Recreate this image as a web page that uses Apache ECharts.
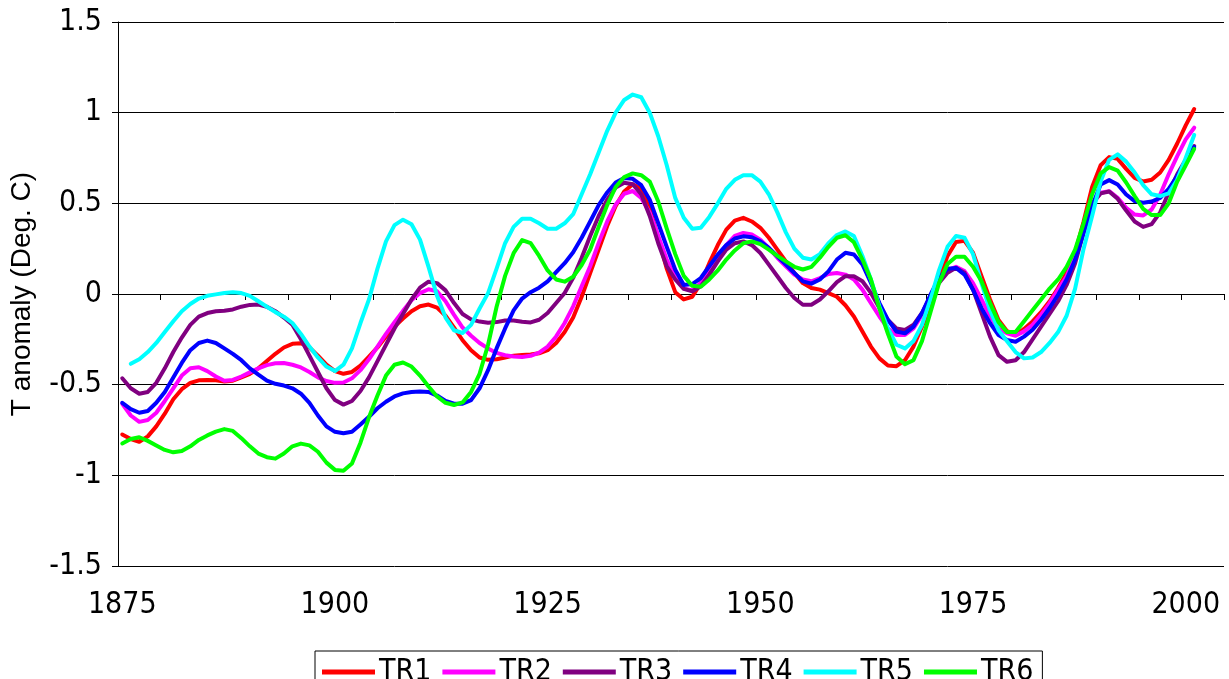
<!DOCTYPE html>
<html>
<head>
<meta charset="utf-8">
<script src="https://cdn.jsdelivr.net/npm/echarts@6/dist/echarts.min.js"></script>
<style>
html,body{margin:0;padding:0;background:#fff;}
#chart{width:1229px;height:679px;}
</style>
</head>
<body>
<div id="chart"></div>
<script>
// Category axis: years 1875..2004 (data through 2001)
const years = [];
for (let y = 1875; y <= 2004; y++) years.push(String(y));

const yTitle = 'T anomaly (Deg. C)';
const seriesNames = ['TR1', 'TR2', 'TR3', 'TR4', 'TR5', 'TR6'];

const TR1 = [-0.775,-0.80,-0.815,-0.785,-0.73,-0.66,-0.58,-0.525,-0.49,-0.476,
-0.474,-0.476,-0.482,-0.478,-0.46,-0.44,-0.41,-0.37,-0.33,-0.295,
-0.275,-0.272,-0.295,-0.34,-0.39,-0.425,-0.44,-0.43,-0.395,-0.345,
-0.295,-0.235,-0.18,-0.135,-0.095,-0.068,-0.058,-0.075,-0.12,-0.185,
-0.255,-0.31,-0.35,-0.363,-0.36,-0.35,-0.34,-0.337,-0.334,-0.327,
-0.31,-0.27,-0.21,-0.13,-0.015,0.115,0.245,0.375,0.485,0.565,
0.605,0.58,0.47,0.31,0.14,0.01,-0.03,-0.015,0.06,0.17,
0.27,0.355,0.405,0.42,0.40,0.365,0.31,0.245,0.18,0.116,
0.06,0.033,0.024,0.005,-0.015,-0.062,-0.124,-0.207,-0.29,-0.355,
-0.394,-0.398,-0.365,-0.29,-0.18,-0.07,0.08,0.21,0.287,0.293,
0.228,0.098,-0.03,-0.143,-0.205,-0.225,-0.193,-0.151,-0.10,-0.04,
0.033,0.116,0.227,0.40,0.59,0.71,0.755,0.745,0.69,0.64,
0.62,0.63,0.67,0.74,0.83,0.93,1.02];

const TR2 = [-0.605,-0.67,-0.705,-0.695,-0.655,-0.59,-0.52,-0.45,-0.41,-0.404,
-0.425,-0.455,-0.478,-0.474,-0.455,-0.432,-0.41,-0.392,-0.382,-0.381,
-0.39,-0.405,-0.43,-0.46,-0.48,-0.49,-0.488,-0.465,-0.42,-0.36,
-0.29,-0.22,-0.155,-0.093,-0.035,0.005,0.026,0.015,-0.04,-0.115,
-0.185,-0.23,-0.27,-0.30,-0.325,-0.338,-0.345,-0.347,-0.341,-0.323,
-0.29,-0.234,-0.16,-0.068,0.042,0.153,0.282,0.40,0.494,0.553,
0.568,0.53,0.448,0.32,0.19,0.09,0.03,0.02,0.06,0.134,
0.208,0.27,0.32,0.337,0.328,0.30,0.254,0.20,0.153,0.107,
0.08,0.07,0.088,0.11,0.116,0.107,0.08,0.024,-0.05,-0.124,
-0.19,-0.226,-0.226,-0.19,-0.115,-0.022,0.07,0.13,0.15,0.126,
0.06,-0.03,-0.124,-0.19,-0.217,-0.23,-0.206,-0.17,-0.114,-0.05,
0.024,0.098,0.208,0.355,0.494,0.558,0.567,0.53,0.475,0.438,
0.433,0.466,0.549,0.66,0.76,0.853,0.917];

const TR3 = [-0.465,-0.52,-0.55,-0.54,-0.49,-0.41,-0.32,-0.24,-0.17,-0.125,
-0.105,-0.095,-0.092,-0.085,-0.07,-0.06,-0.058,-0.07,-0.095,-0.13,
-0.17,-0.25,-0.34,-0.43,-0.52,-0.585,-0.61,-0.59,-0.535,-0.46,
-0.37,-0.28,-0.19,-0.11,-0.03,0.035,0.068,0.06,0.02,-0.05,
-0.11,-0.14,-0.152,-0.158,-0.155,-0.146,-0.146,-0.153,-0.157,-0.142,
-0.105,-0.05,0.006,0.089,0.20,0.32,0.43,0.52,0.587,0.614,
0.605,0.55,0.43,0.28,0.153,0.08,0.028,0.015,0.042,0.107,
0.18,0.245,0.28,0.29,0.27,0.226,0.162,0.098,0.033,-0.022,
-0.059,-0.059,-0.03,0.015,0.065,0.098,0.098,0.07,0.006,-0.078,
-0.143,-0.19,-0.198,-0.17,-0.105,-0.013,0.061,0.117,0.144,0.117,
0.024,-0.105,-0.235,-0.337,-0.374,-0.365,-0.32,-0.25,-0.18,-0.11,
-0.04,0.05,0.17,0.34,0.50,0.555,0.565,0.525,0.46,0.40,
0.37,0.385,0.45,0.56,0.66,0.74,0.816];

const TR4 = [-0.60,-0.635,-0.655,-0.645,-0.60,-0.54,-0.46,-0.38,-0.31,-0.27,
-0.257,-0.27,-0.30,-0.33,-0.365,-0.41,-0.445,-0.478,-0.495,-0.505,
-0.52,-0.55,-0.60,-0.67,-0.73,-0.76,-0.768,-0.76,-0.72,-0.677,
-0.63,-0.594,-0.565,-0.548,-0.54,-0.538,-0.54,-0.56,-0.59,-0.605,
-0.605,-0.585,-0.52,-0.42,-0.30,-0.19,-0.09,-0.025,0.01,0.035,
0.07,0.12,0.17,0.23,0.31,0.40,0.49,0.56,0.615,0.64,
0.635,0.60,0.52,0.39,0.26,0.134,0.05,0.055,0.088,0.153,
0.217,0.27,0.306,0.318,0.313,0.29,0.254,0.208,0.162,0.116,
0.07,0.057,0.08,0.125,0.19,0.227,0.218,0.163,0.061,-0.05,
-0.143,-0.207,-0.217,-0.18,-0.105,-0.004,0.089,0.139,0.144,0.107,
0.024,-0.078,-0.161,-0.226,-0.254,-0.263,-0.235,-0.197,-0.142,-0.077,
-0.004,0.08,0.19,0.337,0.484,0.604,0.628,0.604,0.549,0.512,
0.503,0.51,0.53,0.58,0.65,0.73,0.81];

const TR5 = [null,-0.385,-0.36,-0.32,-0.27,-0.21,-0.15,-0.095,-0.055,-0.025,
-0.01,-0.002,0.005,0.01,0.005,-0.01,-0.04,-0.07,-0.10,-0.125,
-0.16,-0.22,-0.29,-0.35,-0.40,-0.425,-0.39,-0.30,-0.16,-0.03,
0.14,0.29,0.38,0.41,0.385,0.30,0.15,-0.01,-0.13,-0.20,
-0.215,-0.17,-0.08,0.005,0.14,0.28,0.37,0.415,0.415,0.39,
0.36,0.36,0.39,0.44,0.55,0.66,0.78,0.90,1.0,1.07,
1.10,1.085,1.0,0.87,0.71,0.53,0.42,0.36,0.365,0.425,
0.50,0.58,0.63,0.655,0.655,0.62,0.55,0.45,0.34,0.25,
0.20,0.19,0.22,0.28,0.325,0.345,0.32,0.21,0.08,-0.07,
-0.19,-0.28,-0.30,-0.26,-0.17,-0.03,0.13,0.26,0.32,0.31,
0.22,0.06,-0.09,-0.20,-0.26,-0.32,-0.355,-0.35,-0.32,-0.27,
-0.21,-0.12,0.03,0.25,0.43,0.62,0.74,0.77,0.73,0.67,
0.60,0.55,0.54,0.555,0.63,0.75,0.877];

const TR6 = [-0.824,-0.80,-0.79,-0.81,-0.835,-0.86,-0.873,-0.866,-0.84,-0.805,
-0.78,-0.759,-0.745,-0.755,-0.795,-0.84,-0.88,-0.90,-0.908,-0.88,
-0.84,-0.825,-0.835,-0.87,-0.93,-0.97,-0.975,-0.935,-0.82,-0.68,
-0.56,-0.45,-0.39,-0.378,-0.40,-0.45,-0.51,-0.565,-0.60,-0.612,
-0.598,-0.54,-0.44,-0.28,-0.07,0.10,0.225,0.297,0.28,0.21,
0.13,0.08,0.068,0.095,0.16,0.245,0.37,0.49,0.59,0.645,
0.665,0.655,0.62,0.51,0.36,0.22,0.10,0.045,0.04,0.08,
0.13,0.19,0.24,0.28,0.29,0.275,0.245,0.21,0.18,0.15,
0.135,0.15,0.20,0.26,0.31,0.324,0.285,0.19,0.08,-0.08,
-0.22,-0.345,-0.387,-0.365,-0.26,-0.10,0.06,0.165,0.205,0.205,
0.15,0.07,-0.05,-0.155,-0.21,-0.21,-0.15,-0.09,-0.03,0.03,
0.08,0.15,0.245,0.39,0.55,0.665,0.70,0.68,0.615,0.54,
0.47,0.435,0.435,0.50,0.62,0.71,0.80];

const seriesData = [TR1, TR2, TR3, TR4, TR5, TR6];
const colors = ['#FF0000', '#FF00FF', '#800080', '#0000FF', '#00FFFF', '#00FF00'];

const narrow = "'Liberation Sans Narrow', 'Arial Narrow', 'DejaVu Sans Condensed', sans-serif";

const chart = echarts.init(document.getElementById('chart'), null, {renderer: 'canvas'});
chart.setOption({
  animation: false,
  backgroundColor: '#ffffff',
  color: colors,
  grid: {left: 116, right: 5, top: 22, bottom: 113, containLabel: false},
  legend: {
    data: seriesNames,
    left: 315,
    top: 651,
    orient: 'horizontal',
    icon: 'rect',
    itemWidth: 53,
    itemHeight: 5,
    itemGap: 11,
    padding: [6, 9, 6, 7],
    borderColor: '#000',
    borderWidth: 1,
    textStyle: {fontFamily: narrow, fontSize: 30, color: '#000', padding: [0, 0, 0, -1]}
  },
  xAxis: {
    type: 'category',
    data: years,
    boundaryGap: true,
    axisLine: {show: true, lineStyle: {color: '#000', width: 1}},
    axisTick: {show: true, interval: 4, length: 6, lineStyle: {color: '#000'}},
    axisLabel: {interval: 24, margin: 24, fontFamily: narrow, fontSize: 30, color: '#000'},
    splitLine: {show: false}
  },
  yAxis: {
    type: 'value',
    min: -1.5,
    max: 1.5,
    interval: 0.5,
    name: yTitle,
    nameLocation: 'middle',
    nameRotate: 90,
    nameGap: 82,
    nameTextStyle: {fontFamily: "'Liberation Sans', Arial, sans-serif", fontSize: 28, color: '#000'},
    axisLine: {show: true, lineStyle: {color: '#000', width: 1}},
    axisTick: {show: true, length: 6, lineStyle: {color: '#000'}},
    axisLabel: {margin: 16, fontFamily: narrow, fontSize: 30, color: '#000'},
    splitLine: {show: true, lineStyle: {color: '#000', width: 1}}
  },
  series: seriesNames.map((n, i) => ({
    name: n,
    type: 'line',
    data: seriesData[i],
    showSymbol: false,
    symbol: 'none',
    smooth: false,
    connectNulls: false,
    lineStyle: {width: 4, color: colors[i], cap: 'round', join: 'round'},
    itemStyle: {color: colors[i]},
    z: 2 + i
  }))
});
</script>
</body>
</html>
